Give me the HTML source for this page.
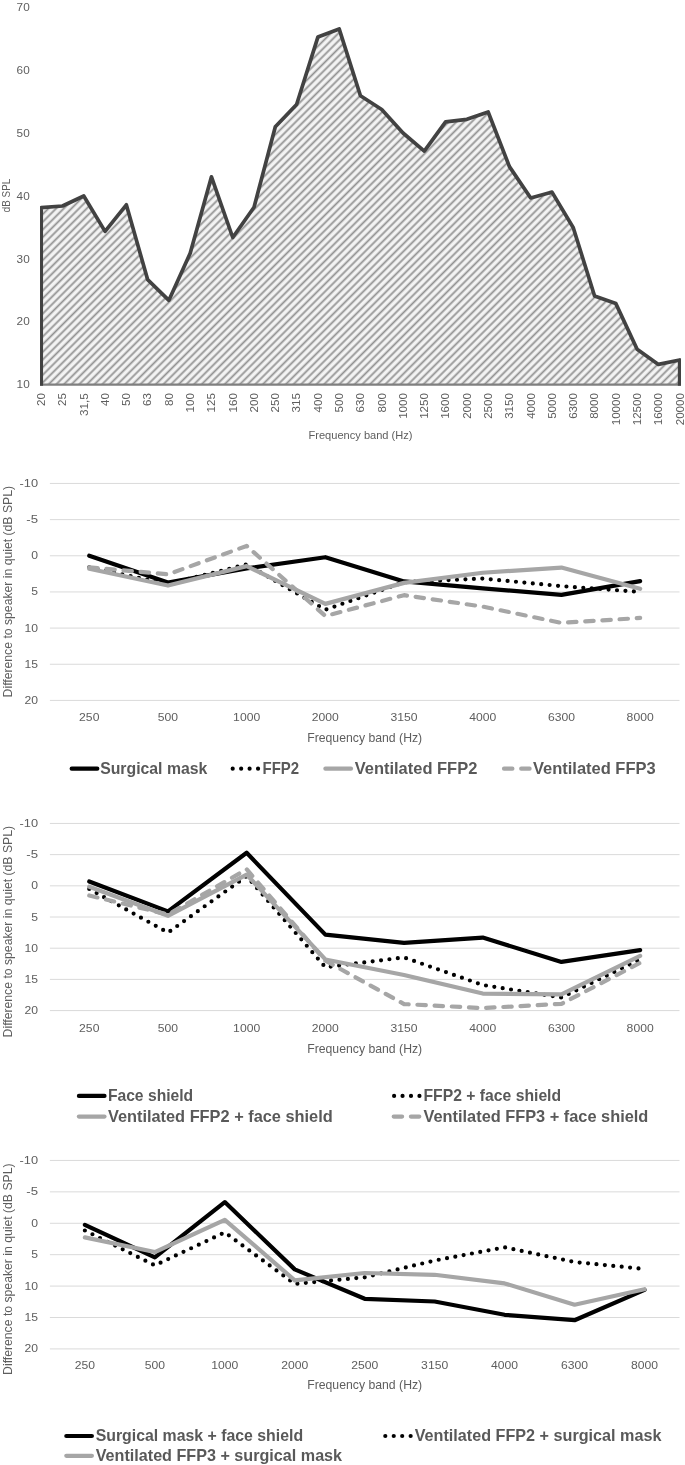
<!DOCTYPE html>
<html lang="en"><head><meta charset="utf-8"><title>Figure</title>
<style>html,body{margin:0;padding:0;background:#fff}svg{display:block}text{font-family:"Liberation Sans", sans-serif}</style>
</head><body>
<svg width="685" height="1465" viewBox="0 0 685 1465">
<defs>
<pattern id="hatch" patternUnits="userSpaceOnUse" width="20" height="5.41" patternTransform="rotate(-45)">
<rect x="0" y="0" width="20" height="5.41" fill="#f3f3f3"/>
<rect x="0" y="2.3" width="20" height="1.75" fill="#919191"/>
</pattern>
<clipPath id="c1"><rect x="40.1" y="0" width="640.7" height="386"/></clipPath>
</defs>
<rect width="685" height="1465" fill="#fff"/>
<g opacity="0.999">
<g clip-path="url(#c1)">
<polygon points="41.20,384.6 41.20,207.70 62.48,206.00 83.77,196.00 105.05,231.40 126.33,204.80 147.62,279.60 168.90,300.30 190.18,253.30 211.47,176.80 232.75,237.50 254.03,207.30 275.32,126.80 296.60,104.50 317.88,37.10 339.17,28.90 360.45,95.80 381.73,109.50 403.02,133.00 424.30,151.10 445.58,121.90 466.87,119.30 488.15,112.00 509.43,166.60 530.72,198.00 552.00,192.10 573.28,227.70 594.57,296.00 615.85,303.60 637.13,349.20 658.42,364.40 679.70,360.00 679.70,384.6" fill="url(#hatch)"/>
<line x1="40.1" x2="680.8" y1="384.6" y2="384.6" stroke="#7f7f7f" stroke-width="2.3"/>
<polyline points="41.20,385.75 41.20,207.70 62.48,206.00 83.77,196.00 105.05,231.40 126.33,204.80 147.62,279.60 168.90,300.30 190.18,253.30 211.47,176.80 232.75,237.50 254.03,207.30 275.32,126.80 296.60,104.50 317.88,37.10 339.17,28.90 360.45,95.80 381.73,109.50 403.02,133.00 424.30,151.10 445.58,121.90 466.87,119.30 488.15,112.00 509.43,166.60 530.72,198.00 552.00,192.10 573.28,227.70 594.57,296.00 615.85,303.60 637.13,349.20 658.42,364.40 679.70,360.00 679.70,385.75" fill="none" stroke="#424242" stroke-width="3.7" stroke-linejoin="round"/>
</g>
<text x="29.70" y="10.95" font-size="10.8" fill="#5e5e5e" text-anchor="end" textLength="13.10" lengthAdjust="spacingAndGlyphs">70</text>
<text x="29.70" y="73.85" font-size="10.8" fill="#5e5e5e" text-anchor="end" textLength="13.10" lengthAdjust="spacingAndGlyphs">60</text>
<text x="29.70" y="136.75" font-size="10.8" fill="#5e5e5e" text-anchor="end" textLength="13.10" lengthAdjust="spacingAndGlyphs">50</text>
<text x="29.70" y="199.65" font-size="10.8" fill="#5e5e5e" text-anchor="end" textLength="13.10" lengthAdjust="spacingAndGlyphs">40</text>
<text x="29.70" y="262.55" font-size="10.8" fill="#5e5e5e" text-anchor="end" textLength="13.10" lengthAdjust="spacingAndGlyphs">30</text>
<text x="29.70" y="325.45" font-size="10.8" fill="#5e5e5e" text-anchor="end" textLength="13.10" lengthAdjust="spacingAndGlyphs">20</text>
<text x="29.70" y="388.35" font-size="10.8" fill="#5e5e5e" text-anchor="end" textLength="13.10" lengthAdjust="spacingAndGlyphs">10</text>
<text transform="translate(45.00,393.20) rotate(-90)" font-size="11.3" fill="#5e5e5e" text-anchor="end" textLength="12.80" lengthAdjust="spacingAndGlyphs">20</text>
<text transform="translate(66.28,393.20) rotate(-90)" font-size="11.3" fill="#5e5e5e" text-anchor="end" textLength="12.80" lengthAdjust="spacingAndGlyphs">25</text>
<text transform="translate(87.57,393.20) rotate(-90)" font-size="11.3" fill="#5e5e5e" text-anchor="end" textLength="22.80" lengthAdjust="spacingAndGlyphs">31,5</text>
<text transform="translate(108.85,393.20) rotate(-90)" font-size="11.3" fill="#5e5e5e" text-anchor="end" textLength="12.80" lengthAdjust="spacingAndGlyphs">40</text>
<text transform="translate(130.13,393.20) rotate(-90)" font-size="11.3" fill="#5e5e5e" text-anchor="end" textLength="12.80" lengthAdjust="spacingAndGlyphs">50</text>
<text transform="translate(151.42,393.20) rotate(-90)" font-size="11.3" fill="#5e5e5e" text-anchor="end" textLength="12.80" lengthAdjust="spacingAndGlyphs">63</text>
<text transform="translate(172.70,393.20) rotate(-90)" font-size="11.3" fill="#5e5e5e" text-anchor="end" textLength="12.80" lengthAdjust="spacingAndGlyphs">80</text>
<text transform="translate(193.98,393.20) rotate(-90)" font-size="11.3" fill="#5e5e5e" text-anchor="end" textLength="19.20" lengthAdjust="spacingAndGlyphs">100</text>
<text transform="translate(215.27,393.20) rotate(-90)" font-size="11.3" fill="#5e5e5e" text-anchor="end" textLength="19.20" lengthAdjust="spacingAndGlyphs">125</text>
<text transform="translate(236.55,393.20) rotate(-90)" font-size="11.3" fill="#5e5e5e" text-anchor="end" textLength="19.20" lengthAdjust="spacingAndGlyphs">160</text>
<text transform="translate(257.83,393.20) rotate(-90)" font-size="11.3" fill="#5e5e5e" text-anchor="end" textLength="19.20" lengthAdjust="spacingAndGlyphs">200</text>
<text transform="translate(279.12,393.20) rotate(-90)" font-size="11.3" fill="#5e5e5e" text-anchor="end" textLength="19.20" lengthAdjust="spacingAndGlyphs">250</text>
<text transform="translate(300.40,393.20) rotate(-90)" font-size="11.3" fill="#5e5e5e" text-anchor="end" textLength="19.20" lengthAdjust="spacingAndGlyphs">315</text>
<text transform="translate(321.68,393.20) rotate(-90)" font-size="11.3" fill="#5e5e5e" text-anchor="end" textLength="19.20" lengthAdjust="spacingAndGlyphs">400</text>
<text transform="translate(342.97,393.20) rotate(-90)" font-size="11.3" fill="#5e5e5e" text-anchor="end" textLength="19.20" lengthAdjust="spacingAndGlyphs">500</text>
<text transform="translate(364.25,393.20) rotate(-90)" font-size="11.3" fill="#5e5e5e" text-anchor="end" textLength="19.20" lengthAdjust="spacingAndGlyphs">630</text>
<text transform="translate(385.53,393.20) rotate(-90)" font-size="11.3" fill="#5e5e5e" text-anchor="end" textLength="19.20" lengthAdjust="spacingAndGlyphs">800</text>
<text transform="translate(406.82,393.20) rotate(-90)" font-size="11.3" fill="#5e5e5e" text-anchor="end" textLength="25.60" lengthAdjust="spacingAndGlyphs">1000</text>
<text transform="translate(428.10,393.20) rotate(-90)" font-size="11.3" fill="#5e5e5e" text-anchor="end" textLength="25.60" lengthAdjust="spacingAndGlyphs">1250</text>
<text transform="translate(449.38,393.20) rotate(-90)" font-size="11.3" fill="#5e5e5e" text-anchor="end" textLength="25.60" lengthAdjust="spacingAndGlyphs">1600</text>
<text transform="translate(470.67,393.20) rotate(-90)" font-size="11.3" fill="#5e5e5e" text-anchor="end" textLength="25.60" lengthAdjust="spacingAndGlyphs">2000</text>
<text transform="translate(491.95,393.20) rotate(-90)" font-size="11.3" fill="#5e5e5e" text-anchor="end" textLength="25.60" lengthAdjust="spacingAndGlyphs">2500</text>
<text transform="translate(513.23,393.20) rotate(-90)" font-size="11.3" fill="#5e5e5e" text-anchor="end" textLength="25.60" lengthAdjust="spacingAndGlyphs">3150</text>
<text transform="translate(534.52,393.20) rotate(-90)" font-size="11.3" fill="#5e5e5e" text-anchor="end" textLength="25.60" lengthAdjust="spacingAndGlyphs">4000</text>
<text transform="translate(555.80,393.20) rotate(-90)" font-size="11.3" fill="#5e5e5e" text-anchor="end" textLength="25.60" lengthAdjust="spacingAndGlyphs">5000</text>
<text transform="translate(577.08,393.20) rotate(-90)" font-size="11.3" fill="#5e5e5e" text-anchor="end" textLength="25.60" lengthAdjust="spacingAndGlyphs">6300</text>
<text transform="translate(598.37,393.20) rotate(-90)" font-size="11.3" fill="#5e5e5e" text-anchor="end" textLength="25.60" lengthAdjust="spacingAndGlyphs">8000</text>
<text transform="translate(619.65,393.20) rotate(-90)" font-size="11.3" fill="#5e5e5e" text-anchor="end" textLength="32.00" lengthAdjust="spacingAndGlyphs">10000</text>
<text transform="translate(640.93,393.20) rotate(-90)" font-size="11.3" fill="#5e5e5e" text-anchor="end" textLength="32.00" lengthAdjust="spacingAndGlyphs">12500</text>
<text transform="translate(662.22,393.20) rotate(-90)" font-size="11.3" fill="#5e5e5e" text-anchor="end" textLength="32.00" lengthAdjust="spacingAndGlyphs">16000</text>
<text transform="translate(683.50,393.20) rotate(-90)" font-size="11.3" fill="#5e5e5e" text-anchor="end" textLength="32.00" lengthAdjust="spacingAndGlyphs">20000</text>
<text x="360.50" y="439.30" font-size="11.8" fill="#5e5e5e" text-anchor="middle" textLength="104.00" lengthAdjust="spacingAndGlyphs">Frequency band (Hz)</text>
<text transform="translate(10.00,195.50) rotate(-90)" font-size="11.8" fill="#5e5e5e" text-anchor="middle" textLength="33.30" lengthAdjust="spacingAndGlyphs">dB SPL</text>
<line x1="49.9" x2="679.5" y1="483.45" y2="483.45" stroke="#dadada" stroke-width="1"/>
<text x="38.10" y="486.95" font-size="11.8" fill="#5e5e5e" text-anchor="end" textLength="18.52" lengthAdjust="spacingAndGlyphs">-10</text>
<line x1="49.9" x2="679.5" y1="519.61" y2="519.61" stroke="#dadada" stroke-width="1"/>
<text x="38.10" y="523.11" font-size="11.8" fill="#5e5e5e" text-anchor="end" textLength="11.76" lengthAdjust="spacingAndGlyphs">-5</text>
<line x1="49.9" x2="679.5" y1="555.77" y2="555.77" stroke="#dadada" stroke-width="1"/>
<text x="38.10" y="559.27" font-size="11.8" fill="#5e5e5e" text-anchor="end" textLength="6.76" lengthAdjust="spacingAndGlyphs">0</text>
<line x1="49.9" x2="679.5" y1="591.93" y2="591.93" stroke="#dadada" stroke-width="1"/>
<text x="38.10" y="595.43" font-size="11.8" fill="#5e5e5e" text-anchor="end" textLength="6.76" lengthAdjust="spacingAndGlyphs">5</text>
<line x1="49.9" x2="679.5" y1="628.09" y2="628.09" stroke="#dadada" stroke-width="1"/>
<text x="38.10" y="631.59" font-size="11.8" fill="#5e5e5e" text-anchor="end" textLength="13.52" lengthAdjust="spacingAndGlyphs">10</text>
<line x1="49.9" x2="679.5" y1="664.25" y2="664.25" stroke="#dadada" stroke-width="1"/>
<text x="38.10" y="667.75" font-size="11.8" fill="#5e5e5e" text-anchor="end" textLength="13.52" lengthAdjust="spacingAndGlyphs">15</text>
<line x1="49.9" x2="679.5" y1="700.41" y2="700.41" stroke="#dadada" stroke-width="1"/>
<text x="38.10" y="703.91" font-size="11.8" fill="#5e5e5e" text-anchor="end" textLength="13.52" lengthAdjust="spacingAndGlyphs">20</text>
<text x="89.25" y="721.30" font-size="11.8" fill="#5e5e5e" text-anchor="middle" textLength="20.28" lengthAdjust="spacingAndGlyphs">250</text>
<text x="167.95" y="721.30" font-size="11.8" fill="#5e5e5e" text-anchor="middle" textLength="20.28" lengthAdjust="spacingAndGlyphs">500</text>
<text x="246.65" y="721.30" font-size="11.8" fill="#5e5e5e" text-anchor="middle" textLength="27.04" lengthAdjust="spacingAndGlyphs">1000</text>
<text x="325.35" y="721.30" font-size="11.8" fill="#5e5e5e" text-anchor="middle" textLength="27.04" lengthAdjust="spacingAndGlyphs">2000</text>
<text x="404.05" y="721.30" font-size="11.8" fill="#5e5e5e" text-anchor="middle" textLength="27.04" lengthAdjust="spacingAndGlyphs">3150</text>
<text x="482.75" y="721.30" font-size="11.8" fill="#5e5e5e" text-anchor="middle" textLength="27.04" lengthAdjust="spacingAndGlyphs">4000</text>
<text x="561.45" y="721.30" font-size="11.8" fill="#5e5e5e" text-anchor="middle" textLength="27.04" lengthAdjust="spacingAndGlyphs">6300</text>
<text x="640.15" y="721.30" font-size="11.8" fill="#5e5e5e" text-anchor="middle" textLength="27.04" lengthAdjust="spacingAndGlyphs">8000</text>
<text x="364.70" y="742.00" font-size="13" fill="#5e5e5e" text-anchor="middle" textLength="115.00" lengthAdjust="spacingAndGlyphs">Frequency band (Hz)</text>
<text transform="translate(12.30,591.70) rotate(-90)" font-size="13" fill="#5e5e5e" text-anchor="middle" textLength="211.40" lengthAdjust="spacingAndGlyphs">Difference to speaker in quiet (dB SPL)</text>
<polyline points="89.25,555.77 167.95,582.53 246.65,568.43 325.35,557.22 404.05,581.44 482.75,588.31 561.45,594.82 640.15,581.08" fill="none" stroke="#000" stroke-width="4.2" stroke-linecap="round" stroke-linejoin="round"/>
<polyline points="89.25,567.34 167.95,583.97 246.65,564.45 325.35,609.72 404.05,582.17 482.75,578.55 561.45,586.14 640.15,591.93" fill="none" stroke="#000" stroke-width="4.2" stroke-linecap="round" stroke-linejoin="round" stroke-dasharray="0 8.45"/>
<polyline points="89.25,568.79 167.95,585.57 246.65,566.11 325.35,603.86 404.05,582.89 482.75,572.77 561.45,567.56 640.15,588.82" fill="none" stroke="#a6a6a6" stroke-width="4.2" stroke-linecap="round" stroke-linejoin="round"/>
<polyline points="89.25,567.34 167.95,574.36 246.65,545.93 325.35,616.01 404.05,595.18 482.75,606.61 561.45,622.88 640.15,617.97" fill="none" stroke="#a6a6a6" stroke-width="4.2" stroke-linecap="round" stroke-linejoin="round" stroke-dasharray="8.4 8.8"/>
<line x1="71.70" x2="97.30" y1="768.7" y2="768.7" stroke="#000" stroke-width="4.2" stroke-linecap="round" stroke-linejoin="round"/>
<text x="100.20" y="774.10" font-size="16.6" fill="#595959" font-weight="bold" textLength="107.10" lengthAdjust="spacingAndGlyphs">Surgical mask</text>
<line x1="232.70" x2="258.40" y1="768.7" y2="768.7" stroke="#000" stroke-width="4.2" stroke-linecap="round" stroke-linejoin="round" stroke-dasharray="0 8.45"/>
<text x="262.50" y="774.10" font-size="16.6" fill="#595959" font-weight="bold" textLength="36.60" lengthAdjust="spacingAndGlyphs">FFP2</text>
<line x1="325.40" x2="351.00" y1="768.7" y2="768.7" stroke="#a6a6a6" stroke-width="4.2" stroke-linecap="round" stroke-linejoin="round"/>
<text x="354.70" y="774.10" font-size="16.6" fill="#595959" font-weight="bold" textLength="122.60" lengthAdjust="spacingAndGlyphs">Ventilated FFP2</text>
<line x1="504.00" x2="529.60" y1="768.7" y2="768.7" stroke="#a6a6a6" stroke-width="4.2" stroke-linecap="round" stroke-linejoin="round" stroke-dasharray="8.4 8.8"/>
<text x="532.90" y="774.10" font-size="16.6" fill="#595959" font-weight="bold" textLength="122.80" lengthAdjust="spacingAndGlyphs">Ventilated FFP3</text>
<line x1="49.9" x2="679.5" y1="823.45" y2="823.45" stroke="#dadada" stroke-width="1"/>
<text x="38.10" y="826.95" font-size="11.8" fill="#5e5e5e" text-anchor="end" textLength="18.52" lengthAdjust="spacingAndGlyphs">-10</text>
<line x1="49.9" x2="679.5" y1="854.64" y2="854.64" stroke="#dadada" stroke-width="1"/>
<text x="38.10" y="858.14" font-size="11.8" fill="#5e5e5e" text-anchor="end" textLength="11.76" lengthAdjust="spacingAndGlyphs">-5</text>
<line x1="49.9" x2="679.5" y1="885.83" y2="885.83" stroke="#dadada" stroke-width="1"/>
<text x="38.10" y="889.33" font-size="11.8" fill="#5e5e5e" text-anchor="end" textLength="6.76" lengthAdjust="spacingAndGlyphs">0</text>
<line x1="49.9" x2="679.5" y1="917.02" y2="917.02" stroke="#dadada" stroke-width="1"/>
<text x="38.10" y="920.52" font-size="11.8" fill="#5e5e5e" text-anchor="end" textLength="6.76" lengthAdjust="spacingAndGlyphs">5</text>
<line x1="49.9" x2="679.5" y1="948.21" y2="948.21" stroke="#dadada" stroke-width="1"/>
<text x="38.10" y="951.71" font-size="11.8" fill="#5e5e5e" text-anchor="end" textLength="13.52" lengthAdjust="spacingAndGlyphs">10</text>
<line x1="49.9" x2="679.5" y1="979.40" y2="979.40" stroke="#dadada" stroke-width="1"/>
<text x="38.10" y="982.90" font-size="11.8" fill="#5e5e5e" text-anchor="end" textLength="13.52" lengthAdjust="spacingAndGlyphs">15</text>
<line x1="49.9" x2="679.5" y1="1010.59" y2="1010.59" stroke="#dadada" stroke-width="1"/>
<text x="38.10" y="1014.09" font-size="11.8" fill="#5e5e5e" text-anchor="end" textLength="13.52" lengthAdjust="spacingAndGlyphs">20</text>
<text x="89.25" y="1031.80" font-size="11.8" fill="#5e5e5e" text-anchor="middle" textLength="20.28" lengthAdjust="spacingAndGlyphs">250</text>
<text x="167.95" y="1031.80" font-size="11.8" fill="#5e5e5e" text-anchor="middle" textLength="20.28" lengthAdjust="spacingAndGlyphs">500</text>
<text x="246.65" y="1031.80" font-size="11.8" fill="#5e5e5e" text-anchor="middle" textLength="27.04" lengthAdjust="spacingAndGlyphs">1000</text>
<text x="325.35" y="1031.80" font-size="11.8" fill="#5e5e5e" text-anchor="middle" textLength="27.04" lengthAdjust="spacingAndGlyphs">2000</text>
<text x="404.05" y="1031.80" font-size="11.8" fill="#5e5e5e" text-anchor="middle" textLength="27.04" lengthAdjust="spacingAndGlyphs">3150</text>
<text x="482.75" y="1031.80" font-size="11.8" fill="#5e5e5e" text-anchor="middle" textLength="27.04" lengthAdjust="spacingAndGlyphs">4000</text>
<text x="561.45" y="1031.80" font-size="11.8" fill="#5e5e5e" text-anchor="middle" textLength="27.04" lengthAdjust="spacingAndGlyphs">6300</text>
<text x="640.15" y="1031.80" font-size="11.8" fill="#5e5e5e" text-anchor="middle" textLength="27.04" lengthAdjust="spacingAndGlyphs">8000</text>
<text x="364.70" y="1052.60" font-size="13" fill="#5e5e5e" text-anchor="middle" textLength="115.00" lengthAdjust="spacingAndGlyphs">Frequency band (Hz)</text>
<text transform="translate(12.30,931.70) rotate(-90)" font-size="13" fill="#5e5e5e" text-anchor="middle" textLength="211.40" lengthAdjust="spacingAndGlyphs">Difference to speaker in quiet (dB SPL)</text>
<polyline points="89.25,881.46 167.95,911.41 246.65,852.77 325.35,934.61 404.05,942.91 482.75,937.61 561.45,961.93 640.15,950.08" fill="none" stroke="#000" stroke-width="4.2" stroke-linecap="round" stroke-linejoin="round"/>
<polyline points="89.25,888.95 167.95,932.62 246.65,876.16 325.35,967.24 404.05,957.44 482.75,985.01 561.45,997.49 640.15,959.44" fill="none" stroke="#000" stroke-width="4.2" stroke-linecap="round" stroke-linejoin="round" stroke-dasharray="0 8.45"/>
<polyline points="89.25,895.44 167.95,914.52 246.65,869.30 325.35,960.69 404.05,1004.04 482.75,1008.09 561.45,1003.85 640.15,962.81" fill="none" stroke="#a6a6a6" stroke-width="4.2" stroke-linecap="round" stroke-linejoin="round" stroke-dasharray="8.4 8.8"/>
<polyline points="89.25,886.70 167.95,915.77 246.65,874.60 325.35,959.44 404.05,975.03 482.75,993.56 561.45,994.37 640.15,955.88" fill="none" stroke="#a6a6a6" stroke-width="4.2" stroke-linecap="round" stroke-linejoin="round"/>
<line x1="78.90" x2="104.50" y1="1095.9" y2="1095.9" stroke="#000" stroke-width="4.2" stroke-linecap="round" stroke-linejoin="round"/>
<text x="107.90" y="1101.20" font-size="16.6" fill="#595959" font-weight="bold" textLength="85.30" lengthAdjust="spacingAndGlyphs">Face shield</text>
<line x1="78.90" x2="104.50" y1="1116.6" y2="1116.6" stroke="#a6a6a6" stroke-width="4.2" stroke-linecap="round" stroke-linejoin="round"/>
<text x="107.90" y="1121.80" font-size="16.6" fill="#595959" font-weight="bold" textLength="224.80" lengthAdjust="spacingAndGlyphs">Ventilated FFP2 + face shield</text>
<line x1="394.10" x2="419.80" y1="1095.9" y2="1095.9" stroke="#000" stroke-width="4.2" stroke-linecap="round" stroke-linejoin="round" stroke-dasharray="0 8.45"/>
<text x="423.50" y="1101.20" font-size="16.6" fill="#595959" font-weight="bold" textLength="137.60" lengthAdjust="spacingAndGlyphs">FFP2 + face shield</text>
<line x1="393.70" x2="419.30" y1="1116.6" y2="1116.6" stroke="#a6a6a6" stroke-width="4.2" stroke-linecap="round" stroke-linejoin="round" stroke-dasharray="8.4 8.8"/>
<text x="423.50" y="1121.80" font-size="16.6" fill="#595959" font-weight="bold" textLength="224.80" lengthAdjust="spacingAndGlyphs">Ventilated FFP3 + face shield</text>
<line x1="49.9" x2="679.5" y1="1160.45" y2="1160.45" stroke="#dadada" stroke-width="1"/>
<text x="38.10" y="1163.95" font-size="11.8" fill="#5e5e5e" text-anchor="end" textLength="18.52" lengthAdjust="spacingAndGlyphs">-10</text>
<line x1="49.9" x2="679.5" y1="1191.86" y2="1191.86" stroke="#dadada" stroke-width="1"/>
<text x="38.10" y="1195.36" font-size="11.8" fill="#5e5e5e" text-anchor="end" textLength="11.76" lengthAdjust="spacingAndGlyphs">-5</text>
<line x1="49.9" x2="679.5" y1="1223.27" y2="1223.27" stroke="#dadada" stroke-width="1"/>
<text x="38.10" y="1226.77" font-size="11.8" fill="#5e5e5e" text-anchor="end" textLength="6.76" lengthAdjust="spacingAndGlyphs">0</text>
<line x1="49.9" x2="679.5" y1="1254.68" y2="1254.68" stroke="#dadada" stroke-width="1"/>
<text x="38.10" y="1258.18" font-size="11.8" fill="#5e5e5e" text-anchor="end" textLength="6.76" lengthAdjust="spacingAndGlyphs">5</text>
<line x1="49.9" x2="679.5" y1="1286.09" y2="1286.09" stroke="#dadada" stroke-width="1"/>
<text x="38.10" y="1289.59" font-size="11.8" fill="#5e5e5e" text-anchor="end" textLength="13.52" lengthAdjust="spacingAndGlyphs">10</text>
<line x1="49.9" x2="679.5" y1="1317.50" y2="1317.50" stroke="#dadada" stroke-width="1"/>
<text x="38.10" y="1321.00" font-size="11.8" fill="#5e5e5e" text-anchor="end" textLength="13.52" lengthAdjust="spacingAndGlyphs">15</text>
<line x1="49.9" x2="679.5" y1="1348.91" y2="1348.91" stroke="#dadada" stroke-width="1"/>
<text x="38.10" y="1352.41" font-size="11.8" fill="#5e5e5e" text-anchor="end" textLength="13.52" lengthAdjust="spacingAndGlyphs">20</text>
<text x="84.88" y="1369.00" font-size="11.8" fill="#5e5e5e" text-anchor="middle" textLength="20.28" lengthAdjust="spacingAndGlyphs">250</text>
<text x="154.83" y="1369.00" font-size="11.8" fill="#5e5e5e" text-anchor="middle" textLength="20.28" lengthAdjust="spacingAndGlyphs">500</text>
<text x="224.79" y="1369.00" font-size="11.8" fill="#5e5e5e" text-anchor="middle" textLength="27.04" lengthAdjust="spacingAndGlyphs">1000</text>
<text x="294.74" y="1369.00" font-size="11.8" fill="#5e5e5e" text-anchor="middle" textLength="27.04" lengthAdjust="spacingAndGlyphs">2000</text>
<text x="364.70" y="1369.00" font-size="11.8" fill="#5e5e5e" text-anchor="middle" textLength="27.04" lengthAdjust="spacingAndGlyphs">2500</text>
<text x="434.66" y="1369.00" font-size="11.8" fill="#5e5e5e" text-anchor="middle" textLength="27.04" lengthAdjust="spacingAndGlyphs">3150</text>
<text x="504.61" y="1369.00" font-size="11.8" fill="#5e5e5e" text-anchor="middle" textLength="27.04" lengthAdjust="spacingAndGlyphs">4000</text>
<text x="574.57" y="1369.00" font-size="11.8" fill="#5e5e5e" text-anchor="middle" textLength="27.04" lengthAdjust="spacingAndGlyphs">6300</text>
<text x="644.52" y="1369.00" font-size="11.8" fill="#5e5e5e" text-anchor="middle" textLength="27.04" lengthAdjust="spacingAndGlyphs">8000</text>
<text x="364.70" y="1389.10" font-size="13" fill="#5e5e5e" text-anchor="middle" textLength="115.00" lengthAdjust="spacingAndGlyphs">Frequency band (Hz)</text>
<text transform="translate(12.30,1269.20) rotate(-90)" font-size="13" fill="#5e5e5e" text-anchor="middle" textLength="211.40" lengthAdjust="spacingAndGlyphs">Difference to speaker in quiet (dB SPL)</text>
<polyline points="84.88,1224.84 154.83,1257.32 224.79,1202.10 294.74,1269.38 364.70,1298.78 434.66,1301.48 504.61,1314.80 574.57,1320.20 644.52,1289.86" fill="none" stroke="#000" stroke-width="4.2" stroke-linecap="round" stroke-linejoin="round"/>
<polyline points="84.88,1230.49 154.83,1265.36 224.79,1232.38 294.74,1283.89 364.70,1277.30 434.66,1260.52 504.61,1247.33 574.57,1262.03 644.52,1269.00" fill="none" stroke="#000" stroke-width="4.2" stroke-linecap="round" stroke-linejoin="round" stroke-dasharray="0 8.45"/>
<polyline points="84.88,1237.40 154.83,1252.04 224.79,1219.81 294.74,1280.31 364.70,1273.02 434.66,1274.78 504.61,1283.39 574.57,1304.68 644.52,1289.23" fill="none" stroke="#a6a6a6" stroke-width="4.2" stroke-linecap="round" stroke-linejoin="round"/>
<line x1="66.30" x2="91.90" y1="1436.0" y2="1436.0" stroke="#000" stroke-width="4.2" stroke-linecap="round" stroke-linejoin="round"/>
<text x="95.70" y="1441.30" font-size="16.6" fill="#595959" font-weight="bold" textLength="207.40" lengthAdjust="spacingAndGlyphs">Surgical mask + face shield</text>
<line x1="66.30" x2="91.90" y1="1455.8" y2="1455.8" stroke="#a6a6a6" stroke-width="4.2" stroke-linecap="round" stroke-linejoin="round"/>
<text x="95.70" y="1461.10" font-size="16.6" fill="#595959" font-weight="bold" textLength="246.40" lengthAdjust="spacingAndGlyphs">Ventilated FFP3 + surgical mask</text>
<line x1="385.30" x2="411.00" y1="1436.0" y2="1436.0" stroke="#000" stroke-width="4.2" stroke-linecap="round" stroke-linejoin="round" stroke-dasharray="0 8.45"/>
<text x="414.70" y="1441.30" font-size="16.6" fill="#595959" font-weight="bold" textLength="246.70" lengthAdjust="spacingAndGlyphs">Ventilated FFP2 + surgical mask</text>
</g>
</svg>
</body></html>
